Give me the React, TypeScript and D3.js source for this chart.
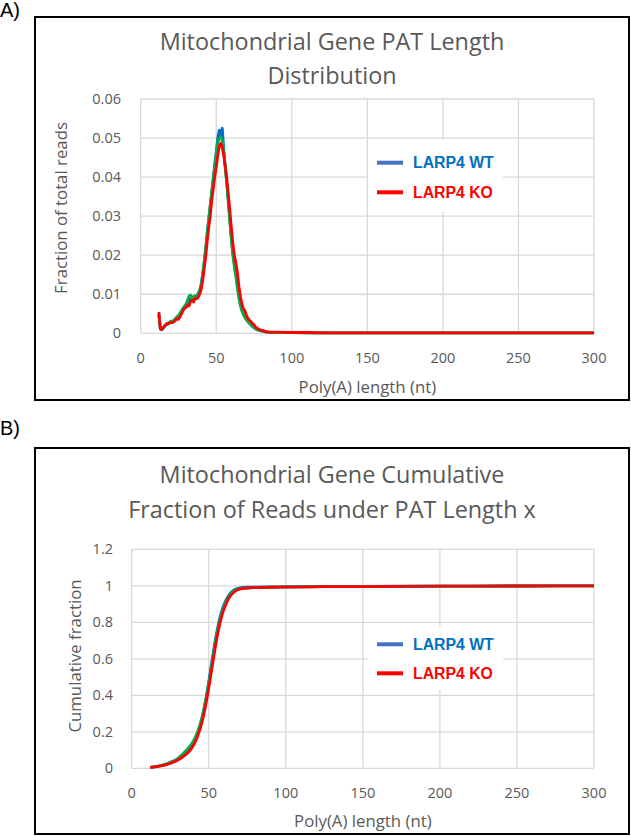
import React from "react";
import * as d3 from "d3";

// ---------- Data: Panel A (fraction of total reads vs poly(A) length) ----------
const lengthsA = [
  12, 13, 14, 15, 16, 17, 18, 19, 20, 21, 22, 23, 24, 25, 26, 27, 28, 29, 30, 31,
  32, 33, 34, 35, 36, 37, 38, 39, 40, 41, 42, 43, 44, 45, 46, 47, 48, 49, 50, 51,
  52, 53, 54, 55, 56, 57, 58, 59, 60, 61, 62, 63, 64, 65, 66, 67, 68, 69, 70, 71,
  72, 73, 74, 75, 76, 77, 78, 79, 80, 81, 82, 83, 84, 85, 90, 100, 110, 120, 130,
  140, 150, 160, 170, 180, 190, 200, 210, 220, 230, 240, 250, 260, 270, 280, 290, 300,
];

const wtA = [
  0.005, 0.001, 0.0009, 0.0013, 0.0018, 0.0022, 0.0024, 0.0027, 0.003, 0.0029,
  0.0032, 0.0036, 0.004, 0.0042, 0.0048, 0.0055, 0.0062, 0.0068, 0.0072, 0.0078,
  0.0085, 0.0088, 0.0084, 0.009, 0.0092, 0.0095, 0.0102, 0.011, 0.0125, 0.015,
  0.018, 0.0215, 0.0255, 0.029, 0.0325, 0.036, 0.0395, 0.043, 0.0465, 0.05,
  0.052, 0.0505, 0.0525, 0.047, 0.0425, 0.0385, 0.034, 0.029, 0.0245, 0.0205,
  0.0175, 0.015, 0.012, 0.0095, 0.0075, 0.006, 0.005, 0.0042, 0.0035, 0.003,
  0.0026, 0.0022, 0.0018, 0.0015, 0.0012, 0.001, 0.0008, 0.0007, 0.0006, 0.0005,
  0.0004, 0.0003, 0.0003, 0.0002, 0.0002, 0.0002, 0.0001, 0.0001, 0.0001,
  0.0001, 0.0001, 0.0001, 0.0001, 0.0001, 0.0001, 0.0001, 0.0001, 0.0001, 0.0001,
  0.0001, 0.0001, 0.0001, 0.0001, 0.0001, 0.0001, 0.0001,
];

const wt2A = [
  0.0048, 0.0011, 0.001, 0.0014, 0.0019, 0.0023, 0.0026, 0.0028, 0.0031, 0.003,
  0.0034, 0.0038, 0.0043, 0.0046, 0.0052, 0.0058, 0.0064, 0.007, 0.0075, 0.0085,
  0.0095, 0.0098, 0.009, 0.0094, 0.0096, 0.0092, 0.01, 0.011, 0.0125, 0.015,
  0.0182, 0.0218, 0.0256, 0.0292, 0.0328, 0.0362, 0.0398, 0.0432, 0.0462, 0.0488,
  0.0498, 0.0502, 0.0495, 0.0465, 0.0425, 0.038, 0.0335, 0.0285, 0.024, 0.02,
  0.017, 0.0145, 0.0115, 0.009, 0.007, 0.0057, 0.0047, 0.004, 0.0034, 0.0029,
  0.0025, 0.0021, 0.0017, 0.0014, 0.0011, 0.0009, 0.0008, 0.0007, 0.0006, 0.0005,
  0.0004, 0.0003, 0.0003, 0.0002, 0.0002, 0.0002, 0.0001, 0.0001, 0.0001,
  0.0001, 0.0001, 0.0001, 0.0001, 0.0001, 0.0001, 0.0001, 0.0001, 0.0001, 0.0001,
  0.0001, 0.0001, 0.0001, 0.0001, 0.0001, 0.0001, 0.0001,
];

const koA = [
  0.0054, 0.0012, 0.001, 0.0015, 0.002, 0.0025, 0.0024, 0.0026, 0.0028, 0.0027,
  0.003, 0.0033, 0.0038, 0.0036, 0.0042, 0.005, 0.0058, 0.0064, 0.0066, 0.0072,
  0.007, 0.0082, 0.0085, 0.008, 0.009, 0.0088, 0.0092, 0.01, 0.0112, 0.0135,
  0.0165, 0.0195, 0.0235, 0.027, 0.03, 0.034, 0.037, 0.04, 0.0425, 0.0455,
  0.048, 0.0487, 0.0475, 0.0455, 0.0425, 0.0395, 0.0355, 0.0315, 0.027, 0.023,
  0.02, 0.018, 0.0155, 0.012, 0.0095, 0.0075, 0.0062, 0.0058, 0.0045, 0.0038,
  0.0033, 0.003, 0.0025, 0.0022, 0.0016, 0.0013, 0.0011, 0.0009, 0.0008, 0.0007,
  0.0005, 0.0004, 0.0004, 0.0003, 0.0003, 0.0002, 0.0002, 0.0001, 0.0001,
  0.0001, 0.0001, 0.0001, 0.0001, 0.0001, 0.0001, 0.0001, 0.0001, 0.0001, 0.0001,
  0.0001, 0.0001, 0.0001, 0.0001, 0.0001, 0.0001, 0.0001,
];

// ---------- Data: Panel B (cumulative fraction) ----------
const lengthsB = [
  12, 15, 20, 25, 30, 35, 38, 40, 42, 44, 46, 48, 50, 52, 54, 56, 58, 60, 62, 64,
  66, 68, 70, 75, 80, 90, 100, 125, 150, 200, 250, 300,
];
const wtB = [
  0.005, 0.008, 0.016, 0.03, 0.05, 0.085, 0.115, 0.14, 0.178, 0.225, 0.29, 0.375,
  0.475, 0.585, 0.69, 0.78, 0.85, 0.9, 0.935, 0.96, 0.975, 0.984, 0.988, 0.992,
  0.993, 0.994, 0.995, 0.996, 0.997, 0.998, 0.999, 1.0,
];
const wt2B = [
  0.005, 0.009, 0.018, 0.033, 0.055, 0.095, 0.125, 0.15, 0.185, 0.23, 0.29, 0.37,
  0.465, 0.57, 0.675, 0.765, 0.835, 0.888, 0.925, 0.952, 0.968, 0.978, 0.984,
  0.988, 0.99, 0.992, 0.993, 0.995, 0.996, 0.998, 0.999, 1.0,
];
const koB = [
  0.005, 0.008, 0.015, 0.027, 0.045, 0.075, 0.1, 0.125, 0.16, 0.205, 0.265, 0.345,
  0.44, 0.545, 0.65, 0.745, 0.82, 0.875, 0.915, 0.945, 0.962, 0.975, 0.982, 0.988,
  0.99, 0.992, 0.993, 0.995, 0.996, 0.998, 0.999, 1.0,
];

const xTicks = [0, 50, 100, 150, 200, 250, 300];
const yTicksA = [0, 0.01, 0.02, 0.03, 0.04, 0.05, 0.06];
const yTickLabelsA = ["0", "0.01", "0.02", "0.03", "0.04", "0.05", "0.06"];
const yTicksB = [0, 0.2, 0.4, 0.6, 0.8, 1.0, 1.2];
const yTickLabelsB = ["0", "0.2", "0.4", "0.6", "0.8", "1", "1.2"];

const legendNames = ["LARP4 WT", "LARP4 KO"];

const FONT = "'Open Sans', 'Noto Sans', sans-serif";
const GREY_TEXT = "#595959";
const GRID = "#D9D9D9";
const BLUE = "#0070C0";
const GREEN = "#00B050";
const RED = "#FF0000";

type PanelProps = {
  panelLabel: string;
  labelY: number;
  box: { x0: number; y0: number; x1: number; y1: number };
  plot: { x0: number; x1: number; y0: number; y1: number };
  titleLines: string[];
  titleY: number[];
  yLabel: string;
  yLabelX: number;
  yLabelY: number;
  yTickRight: number;
  xTickY: number;
  xLabelY: number;
  yDomain: [number, number];
  yTicks: number[];
  yTickLabels: string[];
  xs: number[];
  series: { values: number[]; color: string }[];
  smooth: boolean;
  legend: { x: number; y0: number; y1: number; rect: [number, number, number, number] };
};

function Panel(p: PanelProps) {
  const x = d3.scaleLinear().domain([0, 300]).range([p.plot.x0, p.plot.x1]);
  const y = d3.scaleLinear().domain(p.yDomain).range([p.plot.y1, p.plot.y0]);
  const line = d3
    .line<number>()
    .x((_, i) => x(p.xs[i]))
    .y((v) => y(v))
    .curve(p.smooth ? d3.curveMonotoneX : d3.curveLinear);
  const cx = (p.box.x0 + p.box.x1) / 2;
  const plotCx = (p.plot.x0 + p.plot.x1) / 2;
  const [lx, ly, lw, lh] = p.legend.rect;
  return (
    <g>
      <text x={0} y={p.labelY} fontFamily="'Liberation Sans', Arial, sans-serif" fontSize={20} fill="#000">
        {p.panelLabel}
      </text>
      <rect
        x={p.box.x0}
        y={p.box.y0}
        width={p.box.x1 - p.box.x0}
        height={p.box.y1 - p.box.y0}
        fill="#fff"
        stroke="#000"
        strokeWidth={2}
      />
      {p.titleLines.map((t, i) => (
        <text
          key={i}
          x={cx}
          y={p.titleY[i]}
          textAnchor="middle"
          fontFamily={FONT}
          fontSize={23.4}
          fill={GREY_TEXT}
        >
          {t}
        </text>
      ))}
      {/* gridlines */}
      {p.yTicks.map((t) => (
        <line key={"gy" + t} x1={p.plot.x0} x2={p.plot.x1} y1={y(t)} y2={y(t)} stroke={GRID} strokeWidth={1.3} />
      ))}
      {xTicks.map((t) => (
        <line key={"gx" + t} x1={x(t)} x2={x(t)} y1={p.plot.y0} y2={p.plot.y1} stroke={GRID} strokeWidth={1.3} />
      ))}
      {/* tick labels */}
      {p.yTicks.map((t, i) => (
        <text
          key={"ty" + t}
          x={p.yTickRight}
          y={y(t)}
          dy="0.35em"
          textAnchor="end"
          fontFamily={FONT}
          fontSize={14.5}
          fill={GREY_TEXT}
        >
          {p.yTickLabels[i]}
        </text>
      ))}
      {xTicks.map((t) => (
        <text
          key={"tx" + t}
          x={x(t)}
          y={p.xTickY}
          dy="0.35em"
          textAnchor="middle"
          fontFamily={FONT}
          fontSize={14.5}
          fill={GREY_TEXT}
        >
          {t}
        </text>
      ))}
      {/* axis titles */}
      <text
        transform={`translate(${p.yLabelX},${p.yLabelY}) rotate(-90)`}
        textAnchor="middle"
        dy="0.35em"
        fontFamily={FONT}
        fontSize={16.8}
        fill={GREY_TEXT}
      >
        {p.yLabel}
      </text>
      <text x={plotCx} y={p.xLabelY} textAnchor="middle" fontFamily={FONT} fontSize={16.8} fill={GREY_TEXT}>
        Poly(A) length (nt)
      </text>
      {/* series */}
      {p.series.map((s, i) => (
        <path
          key={"s" + i}
          d={line(s.values) || ""}
          fill="none"
          stroke={s.color}
          strokeWidth={2.8}
          strokeLinejoin="round"
        />
      ))}
      {/* legend */}
      <rect x={lx} y={ly} width={lw} height={lh} fill="#fff" />
      {legendNames.map((name, i) => {
        const yy = i === 0 ? p.legend.y0 : p.legend.y1;
        const lineColor = i === 0 ? "#4472C4" : RED;
        const textColor = i === 0 ? BLUE : RED;
        return (
          <g key={name}>
            <line x1={p.legend.x} x2={p.legend.x + 26} y1={yy} y2={yy} stroke={lineColor} strokeWidth={4} />
            <text
              x={p.legend.x + 36}
              y={yy}
              dy="0.36em"
              fontFamily="'Liberation Sans', Arial, sans-serif"
              fontWeight="bold"
              fontSize={15.8}
              fill={textColor}
            >
              {name}
            </text>
          </g>
        );
      })}
    </g>
  );
}

export default function App() {
  return (
    <svg
      width={631}
      height={836}
      viewBox="0 0 631 836"
      style={{ position: "absolute", left: 0, top: 0, background: "#fff" }}
    >
      <rect x={0} y={0} width={631} height={836} fill="#fff" />
      <Panel
        panelLabel="A)"
        labelY={17}
        box={{ x0: 35, y0: 17, x1: 629, y1: 400 }}
        plot={{ x0: 140.7, x1: 594, y0: 99, y1: 333.3 }}
        titleLines={["Mitochondrial Gene PAT Length", "Distribution"]}
        titleY={[50, 84]}
        yLabel="Fraction of total reads"
        yLabelX={61}
        yLabelY={208}
        yTickRight={121}
        xTickY={358}
        xLabelY={393}
        yDomain={[0, 0.06]}
        yTicks={yTicksA}
        yTickLabels={yTickLabelsA}
        xs={lengthsA}
        series={[
          { values: wtA, color: BLUE },
          { values: wt2A, color: GREEN },
          { values: koA, color: RED },
        ]}
        smooth={false}
        legend={{ x: 377, y0: 162.7, y1: 192.3, rect: [368, 139, 135, 73] }}
      />
      <Panel
        panelLabel="B)"
        labelY={435}
        box={{ x0: 35, y0: 448, x1: 629, y1: 834 }}
        plot={{ x0: 131.7, x1: 594, y0: 549.3, y1: 768.3 }}
        titleLines={["Mitochondrial Gene Cumulative", "Fraction of Reads under PAT Length x"]}
        titleY={[483, 518]}
        yLabel="Cumulative fraction"
        yLabelX={75}
        yLabelY={656}
        yTickRight={113}
        xTickY={793}
        xLabelY={827}
        yDomain={[0, 1.2]}
        yTicks={yTicksB}
        yTickLabels={yTickLabelsB}
        xs={lengthsB}
        series={[
          { values: wtB, color: BLUE },
          { values: wt2B, color: GREEN },
          { values: koB, color: RED },
        ]}
        smooth={true}
        legend={{ x: 377, y0: 644.3, y1: 673.3, rect: [368, 627, 135, 63] }}
      />
    </svg>
  );
}
